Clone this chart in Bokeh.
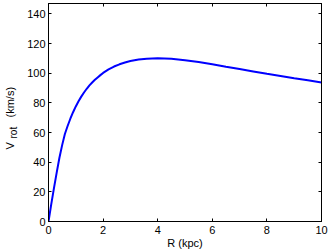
import math
from bokeh.plotting import figure
from bokeh.models import Range1d, LinearAxis, FixedTicker, Label, CustomJSTickFormatter
from bokeh.embed import file_html
from bokeh.resources import INLINE

# Data
R_kpc = [0, 0.1, 0.2, 0.3, 0.4, 0.5, 0.6, 0.7, 0.8, 0.9, 1.0, 1.1, 1.2, 1.3, 1.4,
         1.5, 1.6, 1.7, 1.8, 1.9, 2.0, 2.2, 2.4, 2.6, 2.8, 3.0, 3.3, 3.6, 4.0,
         4.5, 5.0, 5.5, 6.0, 6.5, 7.0, 7.5, 8.0, 8.5, 9.0, 9.5, 10.0]
V_rot = [0, 11.5, 22.5, 33, 43, 51.5, 59, 64.4, 69.3, 73.7, 77.6, 81.1, 84.2, 87.0, 89.5,
         91.75, 93.75, 95.55, 97.15, 98.7, 100.2, 102.6, 104.5, 106.0, 107.2, 108.2, 109.2,
         109.8, 110.0, 109.7, 108.8, 107.6, 106.1, 104.4, 102.8, 101.2, 99.6, 98.1, 96.6,
         95.2, 93.8]
x_ticks = [0, 2, 4, 6, 8, 10]
y_ticks = [0, 20, 40, 60, 80, 100, 120, 140]

FONT = "Liberation Sans"

p = figure(width=332, height=251, x_range=Range1d(0, 10), y_range=Range1d(0, 147),
           output_backend="svg", toolbar_location=None,
           min_border_left=47, min_border_right=10, min_border_top=3, min_border_bottom=30)
p.grid.visible = False
p.outline_line_color = "black"
p.outline_line_width = 1
p.background_fill_color = "white"
p.border_fill_color = "white"

def style(ax, labels=True):
    ax.axis_line_color = "black"
    ax.major_tick_line_color = "black"
    ax.major_tick_in = 3
    ax.major_tick_out = 0
    ax.minor_tick_line_color = None
    ax.major_label_text_font = FONT
    ax.major_label_text_font_size = "11px"
    ax.major_label_text_color = "black"
    ax.axis_label_text_font = FONT
    ax.axis_label_text_font_size = "11px"
    ax.axis_label_text_font_style = "normal"
    ax.axis_label_text_color = "black"
    if not labels:
        ax.formatter = CustomJSTickFormatter(code="return ''")
        ax.major_label_standoff = 0

p.xaxis.ticker = FixedTicker(ticks=x_ticks)
p.yaxis.ticker = FixedTicker(ticks=y_ticks)
style(p.xaxis[0])
style(p.yaxis[0])
p.xaxis.axis_label = "R (kpc)"
p.xaxis.axis_label_standoff = 0
p.xaxis.major_label_standoff = 4
p.yaxis.major_label_standoff = 3

top_ax = LinearAxis(ticker=FixedTicker(ticks=x_ticks))
right_ax = LinearAxis(ticker=FixedTicker(ticks=y_ticks))
style(top_ax, labels=False)
style(right_ax, labels=False)
p.add_layout(top_ax, "above")
p.add_layout(right_ax, "right")

p.line(R_kpc, V_rot, line_color="#0000ff", line_width=2)

# y-axis label: V_rot (km/s); labels live in side panels so they are not clipped
lab = dict(x_units="screen", y_units="screen", angle=math.pi / 2, text_font=FONT,
           text_align="left", text_baseline="alphabetic", text_color="black")
p.add_layout(Label(x=-3, y=72, text="V", text_font_size="11px", **lab), "left")
p.add_layout(Label(x=9, y=104, text="(km/s)", text_font_size="11px", **lab), "left")
p.add_layout(Label(x=-308.5, y=83, text="rot", text_font_size="10px", **lab), "right")

open("out.html", "w").write(file_html(p, INLINE))
